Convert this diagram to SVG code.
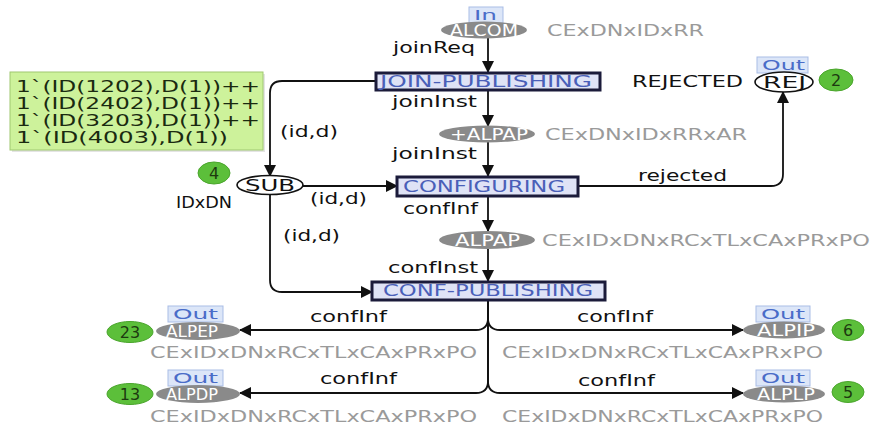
<svg xmlns="http://www.w3.org/2000/svg" width="876" height="428" viewBox="0 0 876 428">
<defs>
<marker id="ah" markerUnits="userSpaceOnUse" markerWidth="12" markerHeight="12" refX="11" refY="6" orient="auto">
<path d="M0,0 L12,6 L0,12 z" fill="#111"/>
</marker>
<style>
text{font-family:"DejaVu Sans","Verdana",sans-serif;}
.lbl{font-size:16px;fill:#111;}
.typ{font-size:16px;fill:#9a9a9a;}
.tn{font-size:16px;fill:#4a5fb8;}
.pn{font-size:15.5px;fill:#fff;}
.pw{font-size:16px;fill:#111;}
.tag{font-size:14px;fill:#4a6cc8;}
.tok{font-size:16px;fill:#1d3a10;}
.mk{font-size:15px;fill:#1a2a10;}
.tr{fill:#dfe3f6;stroke:#1b1b3a;stroke-width:3;}
.pl{fill:#8a8a8a;}
.plw{fill:#fff;stroke:#111;stroke-width:1.6;}
.tg{fill:#dce6f8;stroke:#a9bde6;stroke-width:1;}
.gr{fill:#5cbf3a;stroke:#4aa52c;stroke-width:1;}
.arc{fill:none;stroke:#111;stroke-width:1.8;marker-end:url(#ah);}
</style>
</defs>
<rect width="876" height="428" fill="#fff"/>

<g id="connectors">
<path class="arc" d="M488,38 V72"/>
<path class="arc" d="M488,90 V126"/>
<path class="arc" d="M488,142 V176"/>
<path class="arc" d="M488,196 V231"/>
<path class="arc" d="M488,249 V281"/>
<path class="arc" d="M376,81 H282 Q270,81 270,93 V176"/>
<path class="arc" d="M303,186 H397"/>
<path class="arc" d="M270,194 V280 Q270,292 282,292 H372"/>
<path class="arc" d="M578,186 H771 Q783,186 783,174 V92"/>
<path class="arc" d="M488,300 V318 Q488,330 476,330 H240"/>
<path class="arc" d="M488,300 V318 Q488,330 500,330 H743"/>
<path class="arc" d="M488,300 V381 Q488,393 476,393 H240"/>
<path class="arc" d="M488,300 V381 Q488,393 500,393 H743"/>
<text class="lbl" x="393" y="53" textLength="82" lengthAdjust="spacingAndGlyphs">joinReq</text>
<text class="lbl" x="392" y="107" textLength="85" lengthAdjust="spacingAndGlyphs">joinInst</text>
<text class="lbl" x="392" y="159" textLength="85" lengthAdjust="spacingAndGlyphs">joinInst</text>
<text class="lbl" x="403" y="214" textLength="75" lengthAdjust="spacingAndGlyphs">confInf</text>
<text class="lbl" x="388" y="273" textLength="90" lengthAdjust="spacingAndGlyphs">confInst</text>
<text class="lbl" x="280" y="137" textLength="58" lengthAdjust="spacingAndGlyphs">(id,d)</text>
<text class="lbl" x="310" y="204" textLength="57" lengthAdjust="spacingAndGlyphs">(id,d)</text>
<text class="lbl" x="283" y="241" textLength="57" lengthAdjust="spacingAndGlyphs">(id,d)</text>
<text class="lbl" x="638" y="181" textLength="89" lengthAdjust="spacingAndGlyphs">rejected</text>
<text class="lbl" x="310" y="322" textLength="77" lengthAdjust="spacingAndGlyphs">confInf</text>
<text class="lbl" x="320" y="384" textLength="77" lengthAdjust="spacingAndGlyphs">confInf</text>
<text class="lbl" x="577" y="322" textLength="76" lengthAdjust="spacingAndGlyphs">confInf</text>
<text class="lbl" x="578" y="386" textLength="77" lengthAdjust="spacingAndGlyphs">confInf</text>
</g>

<g id="ALCOM">
<rect class="tg" x="469" y="7" width="34" height="16"/>
<text class="tag" x="474" y="20" textLength="23" lengthAdjust="spacingAndGlyphs">In</text>
<ellipse class="pl" cx="484" cy="30" rx="43" ry="8.5"/>
<text class="pn" x="450" y="35.5" textLength="68" lengthAdjust="spacingAndGlyphs">ALCOM</text>
<text class="typ" x="547" y="36" textLength="157" lengthAdjust="spacingAndGlyphs">CExDNxIDxRR</text>
</g>

<g id="JOIN-PUBLISHING">
<rect class="tr" x="376" y="73" width="224" height="17"/>
<text class="tn" x="380" y="87" textLength="212" lengthAdjust="spacingAndGlyphs">JOIN-PUBLISHING</text>
</g>

<g id="plusALPAP">
<ellipse class="pl" cx="487" cy="134" rx="48" ry="8.5"/>
<text class="pn" x="450" y="139.5" textLength="78" lengthAdjust="spacingAndGlyphs">+ALPAP</text>
<text class="typ" x="545" y="140" textLength="202" lengthAdjust="spacingAndGlyphs">CExDNxIDxRRxAR</text>
</g>

<g id="REJ">
<text class="lbl" x="632" y="87" textLength="111" lengthAdjust="spacingAndGlyphs">REJECTED</text>
<rect class="tg" x="757" y="57" width="51" height="16"/>
<text class="tag" x="762" y="70" textLength="43" lengthAdjust="spacingAndGlyphs">Out</text>
<ellipse class="plw" cx="784" cy="82" rx="29" ry="10"/>
<text class="pw" x="763" y="88" textLength="43" lengthAdjust="spacingAndGlyphs">REJ</text>
<ellipse class="gr" cx="836" cy="80" rx="17" ry="11"/>
<text class="tok" x="836" y="86" text-anchor="middle">2</text>
</g>

<g id="initial-marking">
<rect x="12" y="74" width="253" height="78" fill="#c9c9c9" opacity="0.5"/>
<rect x="10" y="72" width="253" height="78" fill="#cdf29b" stroke="#9fc870" stroke-width="1"/>
<text class="mk" x="16" y="92" textLength="244" lengthAdjust="spacingAndGlyphs">1`(ID(1202),D(1))++</text>
<text class="mk" x="16" y="109" textLength="244" lengthAdjust="spacingAndGlyphs">1`(ID(2402),D(1))++</text>
<text class="mk" x="16" y="126" textLength="244" lengthAdjust="spacingAndGlyphs">1`(ID(3203),D(1))++</text>
<text class="mk" x="16" y="143" textLength="212" lengthAdjust="spacingAndGlyphs">1`(ID(4003),D(1))</text>
</g>

<g id="SUB">
<ellipse class="gr" cx="214" cy="173" rx="16" ry="11"/>
<text class="tok" x="214" y="179" text-anchor="middle">4</text>
<ellipse class="plw" cx="270" cy="185" rx="33" ry="9.5"/>
<text class="pw" x="245" y="191" textLength="50" lengthAdjust="spacingAndGlyphs">SUB</text>
<text class="lbl" x="176" y="208" textLength="56" lengthAdjust="spacingAndGlyphs">IDxDN</text>
</g>

<g id="CONFIGURING">
<rect class="tr" x="397" y="177" width="181" height="19"/>
<text class="tn" x="403" y="192" textLength="162" lengthAdjust="spacingAndGlyphs">CONFIGURING</text>
</g>

<g id="ALPAP">
<ellipse class="pl" cx="487" cy="240" rx="48" ry="9"/>
<text class="pn" x="455" y="245.5" textLength="65" lengthAdjust="spacingAndGlyphs">ALPAP</text>
<text class="typ" x="542" y="246" textLength="328" lengthAdjust="spacingAndGlyphs">CExIDxDNxRCxTLxCAxPRxPO</text>
</g>

<g id="CONF-PUBLISHING">
<rect class="tr" x="372" y="282" width="233" height="18"/>
<text class="tn" x="383" y="296" textLength="210" lengthAdjust="spacingAndGlyphs">CONF-PUBLISHING</text>
</g>

<g id="ALPEP">
<rect class="tg" x="168" y="306" width="55" height="16"/>
<text class="tag" x="173" y="319" textLength="45" lengthAdjust="spacingAndGlyphs">Out</text>
<ellipse class="pl" cx="198" cy="331" rx="42" ry="9"/>
<text class="pn" x="166" y="336.5" textLength="52" lengthAdjust="spacingAndGlyphs">ALPEP</text>
<ellipse class="gr" cx="130" cy="332" rx="23" ry="10.5"/>
<text class="tok" x="130" y="338" text-anchor="middle">23</text>
<text class="typ" x="150" y="358" textLength="327" lengthAdjust="spacingAndGlyphs">CExIDxDNxRCxTLxCAxPRxPO</text>
</g>

<g id="ALPDP">
<rect class="tg" x="168" y="370" width="55" height="16"/>
<text class="tag" x="173" y="383" textLength="45" lengthAdjust="spacingAndGlyphs">Out</text>
<ellipse class="pl" cx="198" cy="394" rx="42" ry="9"/>
<text class="pn" x="166" y="399.5" textLength="52" lengthAdjust="spacingAndGlyphs">ALPDP</text>
<ellipse class="gr" cx="130" cy="394" rx="23" ry="10.5"/>
<text class="tok" x="130" y="400" text-anchor="middle">13</text>
<text class="typ" x="150" y="422" textLength="327" lengthAdjust="spacingAndGlyphs">CExIDxDNxRCxTLxCAxPRxPO</text>
</g>

<g id="ALPIP">
<rect class="tg" x="756" y="306" width="54" height="16"/>
<text class="tag" x="761" y="319" textLength="44" lengthAdjust="spacingAndGlyphs">Out</text>
<ellipse class="pl" cx="784" cy="330" rx="41" ry="8.5"/>
<text class="pn" x="757" y="335.5" textLength="58" lengthAdjust="spacingAndGlyphs">ALPIP</text>
<ellipse class="gr" cx="848" cy="330" rx="16" ry="10.5"/>
<text class="tok" x="848" y="336" text-anchor="middle">6</text>
<text class="typ" x="502" y="358" textLength="321" lengthAdjust="spacingAndGlyphs">CExIDxDNxRCxTLxCAxPRxPO</text>
</g>

<g id="ALPLP">
<rect class="tg" x="756" y="370" width="54" height="16"/>
<text class="tag" x="761" y="383" textLength="44" lengthAdjust="spacingAndGlyphs">Out</text>
<ellipse class="pl" cx="784" cy="394" rx="41" ry="8.5"/>
<text class="pn" x="757" y="399.5" textLength="58" lengthAdjust="spacingAndGlyphs">ALPLP</text>
<ellipse class="gr" cx="848" cy="392" rx="16" ry="10.5"/>
<text class="tok" x="848" y="398" text-anchor="middle">5</text>
<text class="typ" x="502" y="422" textLength="321" lengthAdjust="spacingAndGlyphs">CExIDxDNxRCxTLxCAxPRxPO</text>
</g>
</svg>
